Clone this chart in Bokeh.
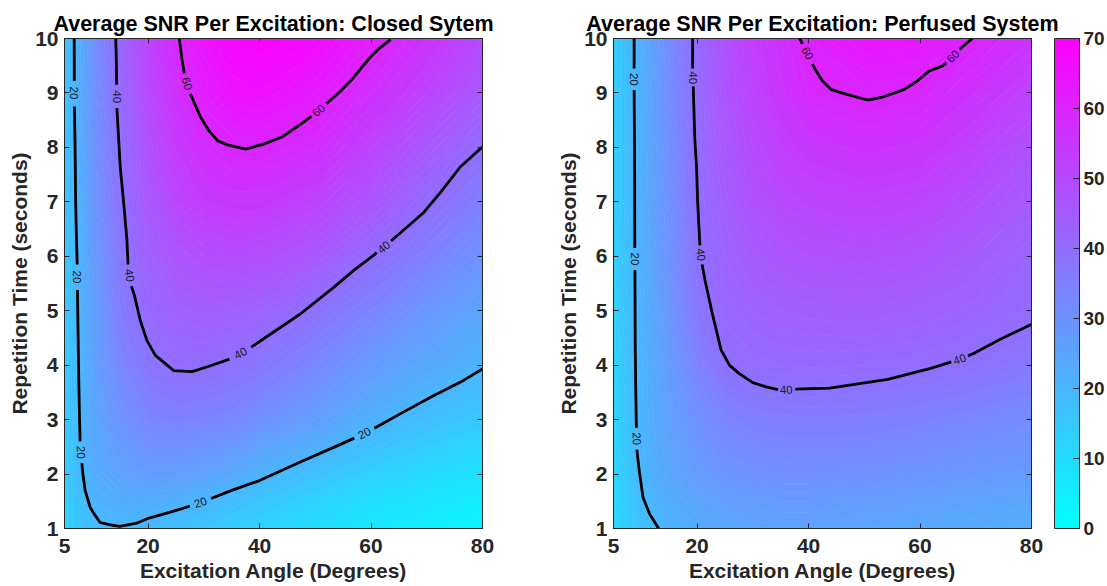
import numpy as np
from bokeh.plotting import figure
from bokeh.models import (FixedTicker, LinearAxis, ColorBar, LinearColorMapper,
                          Range1d)
from bokeh.layouts import row
from bokeh.embed import file_html
from bokeh.resources import INLINE
from bokeh.core.properties import value

nan = float("nan")

# ---------------- data ----------------
angle = [5, 7.5, 10, 15, 20, 25, 30, 35, 40, 50, 60, 70, 80]
tr = [1, 1.5, 2, 3, 4, 5, 6, 7, 8, 9, 10]

closed_snr = [
    [11.0, 15.0, 17.5, 19.5, 19.0, 17.5, 16.0, 14.0, 12.5, 9.5, 6.5, 4.5, 3.0],
    [12.5, 17.5, 21.0, 22.5, 22.5, 21.5, 20.0, 18.0, 16.0, 12.0, 9.0, 7.0, 5.0],
    [13.5, 19.0, 22.5, 26.0, 27.0, 27.0, 25.5, 24.0, 21.0, 17.0, 13.0, 10.0, 8.0],
    [14.0, 19.5, 24.0, 30.0, 33.5, 34.5, 34.0, 33.0, 31.0, 27.0, 21.5, 18.0, 15.0],
    [14.5, 19.5, 25.0, 33.0, 38.0, 40.3, 40.2, 39.0, 37.5, 33.0, 28.0, 24.0, 20.5],
    [15.0, 20.0, 26.0, 36.0, 41.3, 43.5, 44.5, 44.0, 43.0, 39.0, 34.0, 29.0, 25.0],
    [15.5, 20.5, 27.0, 37.0, 43.5, 47.0, 49.0, 49.5, 49.0, 46.0, 40.3, 35.0, 30.0],
    [16.0, 21.0, 28.0, 39.0, 46.0, 51.0, 54.0, 55.0, 55.0, 52.0, 47.0, 40.5, 35.0],
    [16.0, 21.5, 29.0, 39.5, 48.0, 54.0, 58.0, 60.0, 60.3, 58.0, 52.0, 46.0, 40.0],
    [16.0, 22.0, 29.5, 41.0, 50.0, 57.0, 62.0, 65.0, 66.0, 63.0, 57.0, 52.0, 46.0],
    [16.0, 22.0, 30.0, 42.0, 52.0, 59.0, 65.0, 68.0, 69.0, 67.0, 62.0, 56.0, 50.0],
]

perfused_snr = [
    [10.0, 13.5, 17.0, 21.0, 23.0, 24.5, 25.5, 25.5, 25.5, 25.0, 24.0, 23.0, 22.0],
    [10.5, 14.5, 19.0, 22.5, 25.0, 26.5, 27.5, 28.0, 28.0, 27.5, 26.5, 25.5, 24.5],
    [11.0, 15.5, 20.3, 24.5, 27.5, 29.5, 30.5, 31.0, 31.0, 30.5, 29.5, 28.5, 27.5],
    [11.5, 16.5, 20.7, 26.0, 30.5, 33.5, 35.0, 35.5, 35.8, 35.5, 34.5, 33.0, 31.5],
    [12.0, 17.0, 20.5, 27.5, 34.0, 39.3, 40.5, 41.0, 41.2, 41.0, 40.3, 39.0, 37.0],
    [12.5, 17.5, 21.0, 29.0, 37.3, 41.5, 43.0, 44.0, 44.5, 44.8, 44.0, 42.5, 40.7],
    [13.0, 17.8, 21.5, 30.0, 38.8, 43.0, 45.5, 47.0, 48.0, 48.5, 47.5, 45.0, 42.0],
    [13.0, 18.0, 22.0, 30.5, 39.8, 44.5, 48.0, 50.0, 51.5, 52.5, 51.5, 48.5, 45.0],
    [13.0, 18.0, 22.0, 31.0, 40.0, 46.0, 50.0, 53.0, 55.0, 56.5, 55.5, 52.0, 48.0],
    [13.0, 18.0, 22.0, 31.5, 40.5, 47.0, 52.0, 55.5, 59.0, 60.5, 59.8, 56.0, 52.0],
    [13.0, 18.0, 22.0, 32.0, 41.0, 48.0, 53.0, 57.0, 61.0, 64.0, 63.5, 59.8, 56.0],
]

# contour lines (nan = gap for inline label)
closed_c20_x = [6.74, 6.76, nan, 6.78, 6.9, 7.0, 7.15, 7.28, nan, 7.32, 7.45, 7.55, 7.7, 7.8, nan,
                8.1, 8.3, 8.7, 9.6, 10.5, 11.4, 13.0, 14.9, 18.0, 19.85, 24.0, 27.5, nan,
                31.3, 35.0, 40.0, 47.3, 53.3, 57.0, nan, 60.6, 65.3, 71.2, 76.6, 80.0]
closed_c20_y = [10.0, 9.22, nan, 8.75, 8.0, 7.0, 6.3, 5.85, nan, 5.38, 4.5, 3.8, 3.0, 2.6, nan,
                2.2, 2.0, 1.7, 1.39, 1.24, 1.11, 1.07, 1.04, 1.10, 1.18, 1.30, 1.41, nan,
                1.55, 1.70, 1.88, 2.22, 2.49, 2.66, nan, 2.84, 3.11, 3.44, 3.72, 3.93]
closed_c40_x = [14.2, 14.3, 14.35, nan, 14.4, 15.0, 15.6, 16.2, 16.4, nan, 17.0, 17.5, 18.6, 19.8,
                21.3, 24.6, 27.9, 31.2, 34.6, nan, 38.5, 47.3, 53.3, 56.9, 60.5, 61.0, nan,
                63.6, 69.5, 72.5, 76.0, 80.0]
closed_c40_y = [10.0, 9.6, 9.15, nan, 8.72, 7.64, 7.0, 6.3, 5.85, nan, 5.45, 5.3, 4.82, 4.45,
                4.18, 3.90, 3.88, 3.99, 4.11, nan, 4.33, 4.94, 5.43, 5.74, 6.02, 6.07, nan,
                6.28, 6.81, 7.18, 7.64, 8.01]
closed_c60_x = [25.6, 26.1, 26.5, nan, 27.6, 29.4, 30.9, 32.5, 34.4, 37.6, 40.7, 44.0, 47.3, 49.3,
                nan, 52.0, 54.5, 56.6, 58.2, 59.9, 61.5, 63.5]
closed_c60_y = [10.0, 9.6, 9.36, nan, 8.98, 8.56, 8.31, 8.12, 8.04, 7.97, 8.06, 8.19, 8.42, 8.57,
                nan, 8.80, 9.03, 9.25, 9.45, 9.66, 9.82, 9.98]

perf_c20_x = [8.7, 8.7, nan, 8.7, 8.8, 8.82, nan, 8.85, 8.9, 9.0, 9.1, nan, 9.2, 9.35, 9.7, 10.3,
              11.5, 13.1]
perf_c20_y = [10.0, 9.45, nan, 9.05, 7.5, 6.15, nan, 5.75, 4.3, 3.5, 2.85, nan, 2.45, 2.3, 2.0,
              1.57, 1.26, 1.0]
perf_c40_x = [19.2, 19.2, nan, 19.3, 19.6, 19.9, 20.1, 20.3, 20.5, nan, 20.9, 21.4, 22.7, 24.3,
              25.8, 27.5, 30.0, 32.4, 34.5, nan, 37.6, 43.8, 54.2, 61.9, 65.6, nan, 68.6, 69.7,
              74.3, 80.0]
perf_c40_y = [10.0, 9.45, nan, 9.12, 8.13, 7.64, 7.0, 6.6, 6.2, nan, 5.85, 5.57, 4.96, 4.28,
              4.0, 3.85, 3.68, 3.6, 3.55, nan, 3.56, 3.58, 3.74, 3.94, 4.06, nan, 4.17, 4.22,
              4.47, 4.75]
perf_c60_x = [38.4, 38.9, nan, 40.7, 41.2, 42.5, 44.1, 47.0, 50.6, 53.5, 57.1, 59.4, 61.6, 63.9,
              64.7, nan, 67.1, 67.5, 69.4]
perf_c60_y = [10.0, 9.9, nan, 9.53, 9.43, 9.22, 9.06, 8.97, 8.87, 8.93, 9.06, 9.21, 9.40, 9.49,
              9.55, nan, 9.80, 9.84, 10.0]

closed_lbl_x = [6.77, 7.3, 7.95, 29.4, 58.8, 14.38, 16.7, 36.6, 62.3, 27.0, 50.6]
closed_lbl_y = [9.0, 5.62, 2.4, 1.48, 2.75, 8.93, 5.65, 4.22, 6.17, 9.17, 8.68]
closed_lbl_t = ["20", "20", "20", "20", "20", "40", "40", "40", "40", "60", "60"]
closed_lbl_a = [-90, -90, -88, 19, 27, -90, -82, 28, 39, -75, 40]

perf_lbl_x = [8.7, 8.83, 9.15, 19.25, 20.7, 36.0, 67.1, 39.8, 65.9]
perf_lbl_y = [9.25, 5.95, 2.65, 9.28, 6.03, 3.55, 4.11, 9.73, 9.67]
perf_lbl_t = ["20", "20", "20", "40", "40", "40", "40", "60", "60"]
perf_lbl_a = [-90, -90, -88, -90, -84, 1, 19, -62, 45]

x_ticks = [5, 20, 40, 60, 80]
y_ticks = [1, 2, 3, 4, 5, 6, 7, 8, 9, 10]
cbar_ticks = [0, 10, 20, 30, 40, 50, 60, 70]
snr_low, snr_high = 0, 70

# ---------------- styling ----------------
FONT = "Liberation Sans"
DARK = "#262626"


def cool(t):
    r = int(round(255 * min(max(t, 0.0), 1.0)))
    return "#%02x%02xff" % (r, 255 - r)


levels = list(range(snr_low, snr_high + 1))
nb = len(levels) - 1
fill_cols = [cool((k + 0.5) / nb) for k in range(nb)]
line_cols = [cool(k / nb) for k in range(nb + 1)]
cool256 = [cool(i / 255) for i in range(256)]


def style_axis(ax, ticks, show_labels=True):
    ax.ticker = FixedTicker(ticks=ticks)
    ax.major_tick_in = 5
    ax.major_tick_out = 0
    ax.minor_tick_line_color = None
    ax.major_tick_line_color = DARK
    ax.axis_line_color = DARK
    ax.axis_line_width = 1
    if show_labels:
        ax.major_label_text_font = FONT
        ax.major_label_text_font_style = "bold"
        ax.major_label_text_font_size = "21px"
        ax.major_label_text_color = DARK
        ax.major_label_standoff = 6
        ax.axis_label_text_font = FONT
        ax.axis_label_text_font_style = "bold"
        ax.axis_label_text_font_size = "21px"
        ax.axis_label_text_color = DARK
    else:
        ax.major_label_text_font_size = "1px"
        ax.major_label_text_color = None
        ax.major_label_standoff = 0


def make_panel(title, z, cx, cy, lx, ly, lt, la, left_border, right_border):
    p = figure(frame_width=418, frame_height=490,
               x_range=Range1d(5, 80), y_range=Range1d(1, 10),
               output_backend="svg", toolbar_location=None,
               min_border_left=left_border, min_border_right=right_border,
               min_border_top=38, min_border_bottom=58)
    p.title.text = title
    p.title.text_font = FONT
    p.title.text_font_style = "bold"
    p.title.text_font_size = "21.5px"
    p.title.text_color = "black"
    p.title.align = "center"
    p.title.standoff = 6
    p.grid.visible = False
    p.outline_line_color = DARK
    p.background_fill_color = "white"

    p.contour(angle, tr, np.array(z), levels,
              fill_color=fill_cols, line_color=line_cols, line_width=1)

    for xs, ys in zip(cx, cy):
        p.line(xs, ys, line_color="black", line_width=2.8)
    p.text(x=lx, y=ly, text=lt, angle=la, angle_units="deg",
           text_align="center", text_baseline="middle",
           text_font=value(FONT), text_font_size="11.5px", text_color="#1a1a1a")

    style_axis(p.xaxis[0], x_ticks)
    style_axis(p.yaxis[0], y_ticks)
    p.xaxis[0].axis_label = "Excitation Angle (Degrees)"
    p.yaxis[0].axis_label = "Repetition Time (seconds)"
    p.xaxis[0].major_label_standoff = 10
    p.xaxis[0].axis_label_standoff = 3
    p.yaxis[0].axis_label_standoff = 1

    top = LinearAxis()
    style_axis(top, x_ticks, show_labels=False)
    p.add_layout(top, "above")
    right = LinearAxis()
    style_axis(right, y_ticks, show_labels=False)
    p.add_layout(right, "right")
    return p


p1 = make_panel("Average SNR Per Excitation: Closed Sytem", closed_snr,
                [closed_c20_x, closed_c40_x, closed_c60_x],
                [closed_c20_y, closed_c40_y, closed_c60_y],
                closed_lbl_x, closed_lbl_y, closed_lbl_t, closed_lbl_a, 64, 58)
p2 = make_panel("Average SNR Per Excitation: Perfused System", perfused_snr,
                [perf_c20_x, perf_c40_x, perf_c60_x],
                [perf_c20_y, perf_c40_y, perf_c60_y],
                perf_lbl_x, perf_lbl_y, perf_lbl_t, perf_lbl_a, 73, 76)

mapper = LinearColorMapper(palette=cool256, low=snr_low, high=snr_high)
cb = ColorBar(color_mapper=mapper, ticker=FixedTicker(ticks=cbar_ticks),
              width=25, height=490, padding=0, margin=0,
              major_tick_in=6, major_tick_out=0, major_tick_line_color=DARK,
              bar_line_color=DARK, bar_line_width=1,
              major_label_text_font=FONT, major_label_text_font_style="bold",
              major_label_text_font_size="19px", major_label_text_color=DARK,
              label_standoff=4, border_line_color=None, background_fill_alpha=0,
              location=(23, 0))
p2.add_layout(cb, "right")

layout = row(p1, p2)
open("out.html", "w").write(file_html(layout, INLINE))
